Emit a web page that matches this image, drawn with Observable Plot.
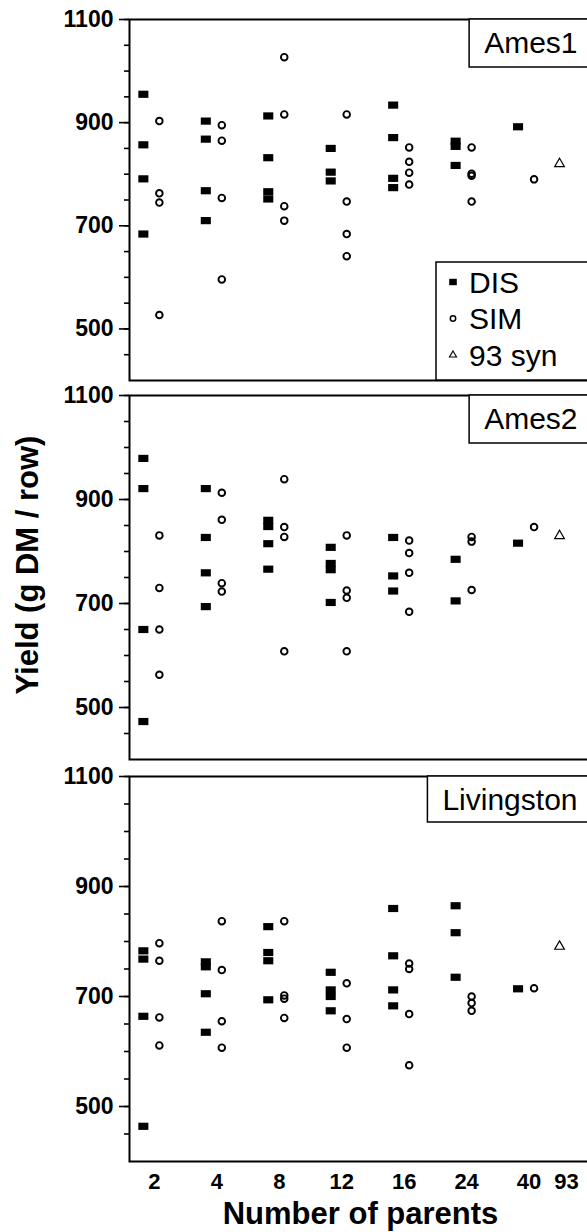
<!DOCTYPE html>
<html><head><meta charset="utf-8">
<script src="https://cdn.jsdelivr.net/npm/d3@7"></script>
<script src="https://cdn.jsdelivr.net/npm/@observablehq/plot@0.6"></script>
<style>
html,body{margin:0;padding:0;background:#fff;}
#fig{position:relative;width:587px;height:1232px;overflow:hidden;background:#fff;font-family:"Liberation Sans",Arial,sans-serif;}
#fig svg{position:absolute;left:0;max-width:none !important;overflow:visible !important;}
#ytitle{position:absolute;z-index:10;left:28px;top:565px;transform:translate(-50%,-50%) rotate(-90deg);font-weight:bold;font-size:31px;white-space:nowrap;color:#000;}
</style></head><body><div id="fig"><div id="ytitle">Yield (g DM / row)</div></div>
<script>
// ---- data ----
const parents = ["2", "4", "8", "12", "16", "24", "40", "93"];
const sites = ["Ames1", "Ames2", "Livingston"];
const yMajorTicks = [500, 700, 900, 1100];
const yMinorTicks = [450, 500, 550, 600, 650, 700, 750, 800, 850, 900, 950, 1000, 1050, 1100];

// values per category (2,4,8,12,16,24,40)
const ames1DIS = [[955, 857, 791, 684], [903, 868, 768, 710], [913, 832, 766, 752], [850, 804, 787], [934, 871, 792, 774], [864, 854, 817], [892]];
const ames1SIM = [[903, 763, 745, 527], [895, 865, 754, 596], [1027, 916, 738, 710], [916, 747, 684, 641], [852, 824, 803, 780], [852, 801, 797, 747], [790]];
const ames2DIS = [[979, 921, 650, 473], [921, 827, 759, 694], [860, 848, 815, 766], [808, 777, 765, 702], [827, 753, 724], [785, 705], [816]];
const ames2SIM = [[831, 730, 650, 563], [913, 861, 739, 723], [939, 847, 828, 608], [831, 725, 711, 608], [821, 797, 759, 684], [828, 819, 726], [847]];
const livDIS = [[783, 768, 664, 464], [763, 754, 705, 635], [827, 780, 765, 694], [744, 712, 700, 674], [860, 774, 712, 683], [865, 816, 735], [714]];
const livSIM = [[797, 765, 662, 611], [837, 748, 655, 607], [837, 702, 696, 661], [724, 659, 607], [760, 750, 668, 575], [700, 688, 674], [715]];
const syn93 = [820, 830, 791]; // 93-parent synthetic, per site

const disSeries = [ames1DIS, ames2DIS, livDIS];
const simSeries = [ames1SIM, ames2SIM, livSIM];

// ---- layout ----
const FONT = '"Liberation Sans", Arial, Helvetica, sans-serif';
const W = 613;
const layout = [
  {top: 0, height: 388, mt: 19, mb: 8},
  {top: 388, height: 379, mt: 7, mb: 8},
  {top: 767, height: 465, mt: 9, mb: 71}
];
// x slot of each category (the 93 column sits closer to 40 in the figure)
const slotOf = (i) => (i < 7 ? i : 6.6);
const slots = parents.map((p, i) => slotOf(i));
const labelOfSlot = new Map(parents.map((p, i) => [slotOf(i), p]));

const rectSymbol = {
  draw(context, size) {
    const w = Math.sqrt(size * 1.4), h = size / w;
    context.rect(-w / 2, -h / 2, w, h);
  }
};

function tidy(series) {
  const rows = [];
  series.forEach((vals, i) => vals.forEach((v) => rows.push({slot: slotOf(i), value: v})));
  return rows;
}

const fig = document.getElementById("fig");
const svgNS = "http://www.w3.org/2000/svg";

layout.forEach((L, k) => {
  const isLast = k === layout.length - 1;
  const plot = Plot.plot({
    width: W,
    height: L.height,
    marginLeft: 129,
    marginRight: 0,
    marginTop: L.mt,
    marginBottom: L.mb,
    style: {fontFamily: FONT, fontSize: "23px", fontWeight: "bold", background: "white", color: "black", maxWidth: "none", overflow: "visible"},
    x: {type: "linear", domain: [-0.35, 7.4], label: null, ...(isLast ? {} : {axis: null})},
    y: {domain: [400, 1100], label: null},
    marks: [
      Plot.axisY({ticks: yMinorTicks, tickSize: 5, tickFormat: () => "", strokeWidth: 1.6, label: null}),
      Plot.axisY({ticks: yMajorTicks, tickSize: 10, tickPadding: 6, tickFormat: (d) => String(d), strokeWidth: 1.6, fontSize: 23, fontWeight: "bold", label: null}),
      isLast ? Plot.axisX({ticks: slots, tickSize: 0, tickPadding: 12, tickFormat: (s) => labelOfSlot.get(s), fontSize: 22, fontWeight: "bold", dx: 3, label: null}) : null,
      isLast ? Plot.text(["Number of parents"], {text: (d) => d, frameAnchor: "bottom", lineAnchor: "bottom", dx: -11, dy: 62, fontSize: 31, fontWeight: "bold"}) : null,
      Plot.frame({stroke: "black", strokeWidth: 2}),
      Plot.dot(tidy(disSeries[k]), {x: "slot", y: "value", symbol: rectSymbol, r: 4.8, fill: "black", stroke: "none", dx: -8}),
      Plot.dot(tidy(simSeries[k]), {x: "slot", y: "value", symbol: "circle", r: 3.3, stroke: "black", strokeWidth: 1.9, fill: "none", dx: 8}),
      Plot.dot([{slot: slotOf(7), value: syn93[k]}], {x: "slot", y: "value", symbol: "triangle", r: 3.6, stroke: "black", strokeWidth: 1.2, fill: "none", dx: -4}),
      Plot.text([sites[k]], {text: (d) => d, frameAnchor: "top-right", dx: -36, dy: 24, lineAnchor: "middle", textAnchor: "end", fontSize: 30, fontWeight: "normal"})
    ]
  });
  plot.style.top = L.top + "px";
  plot.style.maxWidth = "none";
  fig.appendChild(plot);

  const svg = d3.select(plot);
  const svgBox = plot.getBoundingClientRect();

  // box around site label
  const textNodes = plot.querySelectorAll('g[aria-label="text"] text');
  const siteText = Array.from(textNodes).find((t) => t.textContent === sites[k]);
  if (siteText) {
    const bb = siteText.getBoundingClientRect();
    const group = siteText.closest('g[aria-label="text"]');
    const rect = document.createElementNS(svgNS, "rect");
    rect.setAttribute("x", bb.left - svgBox.left - 15);
    rect.setAttribute("y", L.mt);
    rect.setAttribute("width", bb.width + 60);
    rect.setAttribute("height", isLast ? 46 : 48);
    rect.setAttribute("fill", "white");
    rect.setAttribute("stroke", "black");
    rect.setAttribute("stroke-width", 1.5);
    plot.insertBefore(rect, group);
  }

  // legend inside first panel
  if (k === 0) {
    const lg = svg.append("g").attr("font-family", FONT).attr("font-weight", "normal").attr("text-anchor", "start");
    const bottom = L.height - L.mb;
    lg.append("rect").attr("x", 436).attr("y", 262).attr("width", 200).attr("height", bottom - 262)
      .attr("fill", "white").attr("stroke", "black").attr("stroke-width", 1.5);
    const items = [
      {label: "DIS", kind: "rect"},
      {label: "SIM", kind: "circle"},
      {label: "93 syn", kind: "triangle"}
    ];
    items.forEach((it, i) => {
      const cy = 282 + i * 36.5;
      if (it.kind === "rect") {
        lg.append("rect").attr("x", 453 - 3.8).attr("y", cy - 3.2).attr("width", 7.6).attr("height", 6.4).attr("fill", "black");
      } else if (it.kind === "circle") {
        lg.append("circle").attr("cx", 453).attr("cy", cy).attr("r", 2.7).attr("fill", "none").attr("stroke", "black").attr("stroke-width", 1.5);
      } else {
        lg.append("path").attr("transform", `translate(453,${cy})`).attr("d", d3.symbol(d3.symbolTriangle2, 36)())
          .attr("fill", "none").attr("stroke", "black").attr("stroke-width", 1.1);
      }
      lg.append("text").attr("x", 469).attr("y", cy).attr("dy", "0.35em").attr("font-size", 30).attr("fill", "black").text(it.label);
    });
  }
});
</script></body></html>
